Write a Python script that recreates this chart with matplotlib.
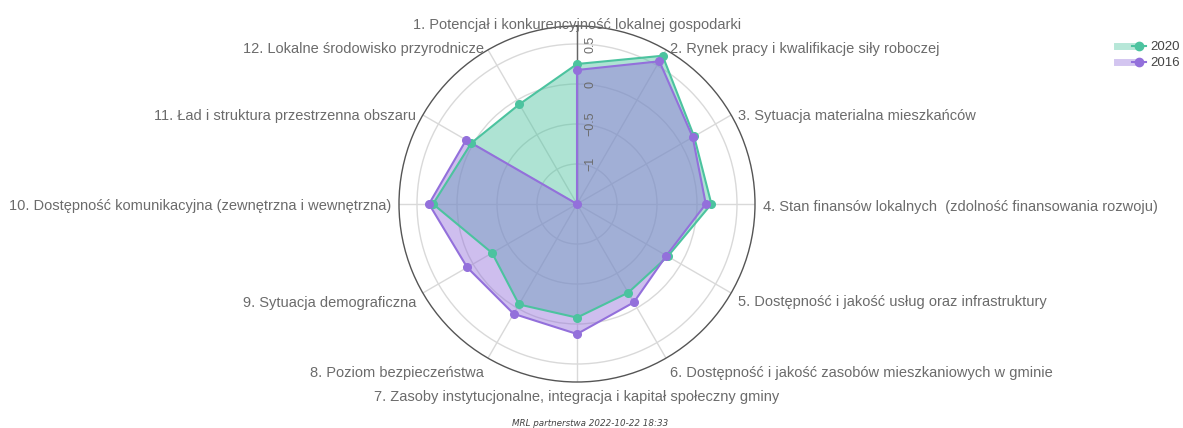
import numpy as np
import matplotlib
matplotlib.use("Agg")
import matplotlib.pyplot as plt
import matplotlib.transforms as mtransforms
from matplotlib.lines import Line2D
from matplotlib.legend_handler import HandlerTuple

plt.rcParams['font.family'] = ['Liberation Sans', 'DejaVu Sans']

categories = [
    "1. Potencjał i konkurencyjność lokalnej gospodarki",
    "2. Rynek pracy i kwalifikacje siły roboczej",
    "3. Sytuacja materialna mieszkańców",
    "4. Stan finansów lokalnych  (zdolność finansowania rozwoju)",
    "5. Dostępność i jakość usług oraz infrastruktury",
    "6. Dostępność i jakość zasobów mieszkaniowych w gminie",
    "7. Zasoby instytucjonalne, integracja i kapitał społeczny gminy",
    "8. Poziom bezpieczeństwa",
    "9. Sytuacja demograficzna",
    "10. Dostępność komunikacyjna (zewnętrzna i wewnętrzna)",
    "11. Ład i struktura przestrzenna obszaru",
    "12. Lokalne środowisko przyrodnicze",
]
values_2020 = [0.25, 0.64, 0.19, 0.18, -0.19, -0.22, -0.08, -0.05, -0.275, 0.30, 0.025, -0.06]
values_2016 = [0.175, 0.56, 0.17, 0.11, -0.21, -0.08, 0.125, 0.085, 0.085, 0.35, 0.10, -1.5]
series_names = ["2020", "2016"]
radial_ticks = [-1, -0.5, 0, 0.5]
radial_tick_labels = ["\u22121", "\u22120.5", "0", "0.5"]
r_min, r_max = -1.5, 0.725
footer = "MRL partnerstwa 2022-10-22 18:33"

W, H = 1183, 428
cx, cy, R = 577, 204, 178
green = "#4cc39f"
purple = "#9370DB"
text_grey = "#6b6b6b"

fig = plt.figure(figsize=(W / 100, H / 100), dpi=100)
ax = fig.add_axes([(cx - R) / W, (H - cy - R) / H, 2 * R / W, 2 * R / H], projection='polar')
ax.set_theta_zero_location('N')
ax.set_theta_direction(-1)
ax.set_ylim(r_min, r_max)

n = len(categories)
theta = np.arange(n) * 2 * np.pi / n
ax.set_xticks(theta)
ax.set_xticklabels([])
ax.set_yticks(radial_ticks)
ax.set_yticklabels([])
ax.tick_params(length=0)
ax.xaxis.grid(True, color="#d9d9d9", lw=1)
ax.yaxis.grid(True, color="#d9d9d9", lw=1)
ax.set_axisbelow(True)
ax.spines['polar'].set_color("#555555")
ax.spines['polar'].set_linewidth(1)
ax.axvline(0, color="#666666", lw=1, zorder=1.5)

tc = np.append(theta, theta[0])
for vals, col in [(values_2020, green), (values_2016, purple)]:
    v = np.append(vals, vals[0])
    ax.fill(tc, v, color=col, alpha=0.45, lw=0, zorder=2)
    ax.plot(tc, v, color=col, lw=1.5, zorder=3)
    ax.plot(theta, vals, 'o', color=col, ms=5.5, zorder=4)

# radial tick labels
off = mtransforms.offset_copy(ax.transData, fig=fig, x=13, y=0, units='dots')
for t, lab in zip(radial_ticks, radial_tick_labels):
    ax.text(0, t, lab, transform=off, rotation=90, ha='center', va='center',
            fontsize=9, color=text_grey)

# category labels
pad = 8
for ang, lab in zip(theta, categories):
    s, c = np.cos(ang), np.sin(ang)  # s: up component, c: right component
    px = cx + (R + pad) * c
    py = cy - (R + pad) * s
    if s < -0.9:
        py += 7 * abs(s)
    elif s < 0:
        py += 7 * abs(s) + 2
    else:
        py += 4 * s + 3
    if c > 0.1:
        ha = 'left'
    elif c < -0.1:
        ha = 'right'
    else:
        ha = 'center'
    fig.text(px / W, 1 - py / H, lab, ha=ha, va='center', fontsize=10.5, color=text_grey)

# legend
h1 = (Line2D([], [], color=green, lw=5, alpha=0.4),
      Line2D([], [], color=green, lw=1.5, marker='o', ms=6))
h2 = (Line2D([], [], color=purple, lw=5, alpha=0.4),
      Line2D([], [], color=purple, lw=1.5, marker='o', ms=6))
fig.legend([h1, h2], series_names, handler_map={tuple: HandlerTuple(ndivide=None)},
           loc='upper left', bbox_to_anchor=(1117 / W, 1 - 41 / H), frameon=False,
           fontsize=9.5, handlelength=2.2, labelspacing=0.3, handletextpad=0.3,
           labelcolor="#444444", borderaxespad=0, borderpad=0)

fig.text(590 / W, 1 - 423 / H, footer, ha='center', va='center', fontsize=6.3,
         style='italic', family='DejaVu Sans', color="#444444")

fig.savefig("out.png", dpi=100)
